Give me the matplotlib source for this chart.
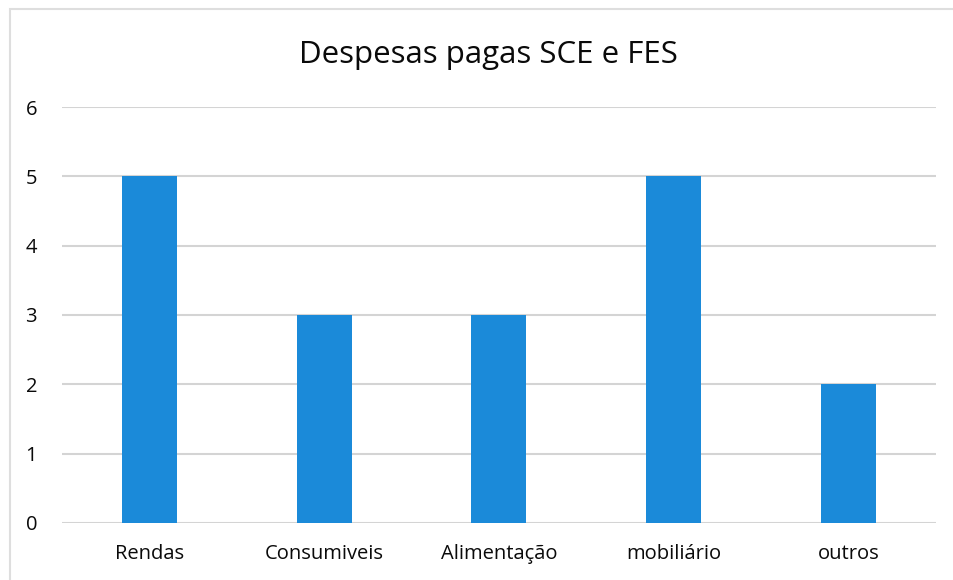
import matplotlib.pyplot as plt
from matplotlib.patches import Rectangle

# Despesas pagas SCE e FES
categorias = ["Rendas", "Consumiveis", "Alimentação", "mobiliário", "outros"]
valores = [5, 3, 3, 5, 2]
yticks = [0, 1, 2, 3, 4, 5, 6]

plt.rcParams['font.family'] = ['Open Sans', 'DejaVu Sans']

fig = plt.figure(figsize=(9.54, 5.8), dpi=100)
ax = fig.add_axes([0.065, 0.0983, 0.916, 0.7172])

# cadre gris clair autour du graphique
fig.patches.append(Rectangle((10/954, -0.05), 1.2, 1 - 9/580 + 0.05,
                             transform=fig.transFigure, fill=False,
                             edgecolor="#dedede", linewidth=1.5))

x = range(len(categorias))
ax.bar(x, valores, width=0.315, color="#1b8ad9", zorder=3)

ax.set_xlim(-0.5, len(categorias) - 0.5)
ax.set_ylim(0, 6)
ax.set_yticks(yticks)
ax.set_xticks(list(x))
ax.set_xticklabels(categorias)
ax.grid(axis="y", color="#d4d4d4", linewidth=1.5, zorder=0)
ax.set_axisbelow(True)
for s in ax.spines.values():
    s.set_visible(False)
ax.tick_params(axis="both", length=0, labelsize=14.5, colors="#0a0a0a")
ax.tick_params(axis="x", pad=15)
ax.tick_params(axis="y", pad=18)

fig.text(0.512, 1 - 55/580, "Despesas pagas SCE e FES", ha="center", va="center",
         fontsize=22.5, color="#0a0a0a")

fig.savefig("out.png", dpi=100)
